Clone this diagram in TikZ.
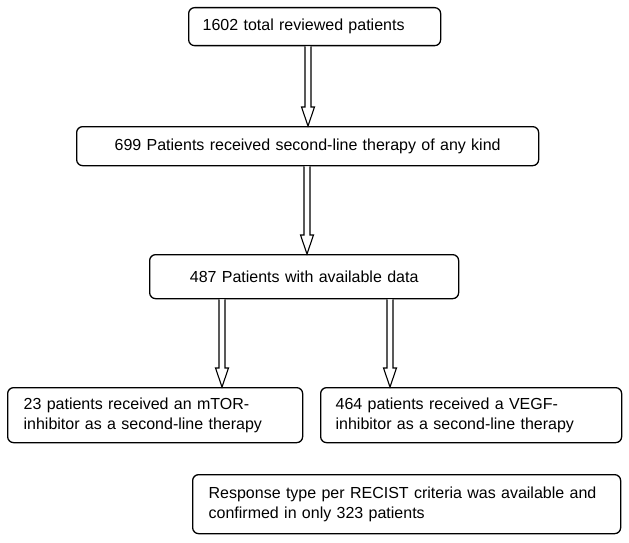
\documentclass[tikz,border=0pt]{standalone}
\usepackage{fontspec}
\setmainfont{Liberation Sans}[WordSpace=1.4]
\usetikzlibrary{calc}
\tikzset{
  box/.style={draw=black, line width=1.3pt, rounded corners=6pt, fill=white,
    inner ysep=0pt, font=\fontsize{16}{20}\selectfont, anchor=north west},
  hollow/.style={draw=black, line width=1.1pt, fill=white, line join=miter}
}
\newcommand\harrow[3]{%
  \path (#1.south -| #3,0) coordinate (hs) (#2.north -| #3,0) coordinate (ht);
  \draw[hollow] ([xshift=-3]hs) -- ([xshift=-3,yshift=19]ht) -- ([xshift=-6.5,yshift=19]ht)
    -- (ht) -- ([xshift=6.5,yshift=19]ht) -- ([xshift=3,yshift=19]ht) -- ([xshift=3]hs);
}
\begin{document}
\begin{tikzpicture}[x=1pt,y=-1pt]
\useasboundingbox (0,0) rectangle (629,543);
\fill[white] (0,0) rectangle (629,543);
\node[box, minimum height=38pt, inner xsep=14pt, text width=224pt, align=left] (b1) at (188,7) {1602 total reviewed patients};
\node[box, minimum height=39pt, inner xsep=14pt, text width=434pt, align=center] (b2) at (76,126) {699 Patients received second-line therapy of any kind};
\node[box, minimum height=44pt, inner xsep=14pt, text width=281pt, align=center] (b3) at (149,254) {487 Patients with available data};
\node[box, minimum height=55pt, inner xsep=16pt, text width=263pt, align=left] (b4) at (7,387) {23 patients received an mTOR-\\inhibitor as a second-line therapy};
\node[box, minimum height=55pt, inner xsep=15pt, text width=271pt, align=left] (b5) at (320,387) {464 patients received a VEGF-\\inhibitor as a second-line therapy};
\node[box, minimum height=59pt, inner xsep=16pt, text width=396pt, align=left] (b6) at (192,474) {Response type per RECIST criteria was available and\\confirmed in only 323 patients};
\harrow{b1}{b2}{308}
\harrow{b2}{b3}{307}
\harrow{b3}{b4}{222}
\harrow{b3}{b5}{390}
\end{tikzpicture}
\end{document}
